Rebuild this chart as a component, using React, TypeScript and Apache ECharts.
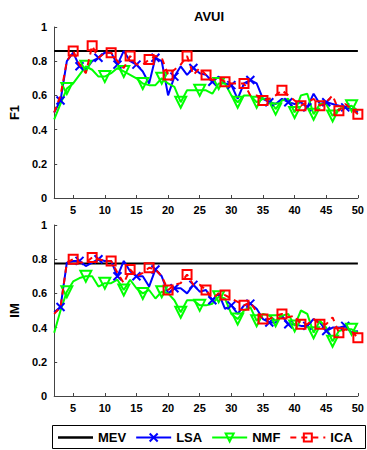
import React, { useEffect, useRef } from "react";
import * as echarts from "echarts";

const xs = [2,3,4,5,6,7,8,9,10,11,12,13,14,15,16,17,18,19,20,21,22,23,24,25,26,27,28,29,30,31,32,33,34,35,36,37,38,39,40,41,42,43,44,45,46,47,48,49,50];
const xTicks = [5,10,15,20,25,30,35,40,45,50];
const title = "AVUI";
const mevF1 = 0.86;
const mevIM = 0.775;

const lsaF1 = [0.50,0.57,0.80,0.85,0.77,0.75,0.80,0.82,0.85,0.85,0.78,0.86,0.80,0.78,0.74,0.67,0.82,0.80,0.60,0.71,0.77,0.72,0.76,0.73,0.72,0.68,0.71,0.67,0.66,0.58,0.67,0.69,0.67,0.58,0.56,0.55,0.58,0.56,0.55,0.56,0.53,0.61,0.55,0.56,0.55,0.54,0.53,0.52,0.50];
const nmfF1 = [0.46,0.55,0.64,0.67,0.72,0.77,0.75,0.71,0.71,0.73,0.76,0.74,0.72,0.70,0.67,0.66,0.66,0.70,0.67,0.65,0.56,0.63,0.63,0.63,0.63,0.61,0.67,0.67,0.60,0.56,0.60,0.60,0.56,0.58,0.58,0.52,0.57,0.58,0.50,0.60,0.61,0.49,0.55,0.55,0.48,0.52,0.53,0.54,0.51];
const icaF1 = [0.50,0.60,0.80,0.86,0.78,0.73,0.89,0.82,0.85,0.85,0.80,0.76,0.83,0.78,0.78,0.81,0.83,0.82,0.72,0.75,0.78,0.83,0.72,0.76,0.72,0.69,0.70,0.68,0.67,0.67,0.67,0.60,0.60,0.57,0.58,0.60,0.63,0.60,0.57,0.54,0.56,0.58,0.54,0.56,0.60,0.51,0.55,0.52,0.49];

const lsaIM = [0.49,0.52,0.78,0.79,0.79,0.76,0.78,0.80,0.79,0.79,0.70,0.79,0.73,0.70,0.70,0.64,0.74,0.70,0.60,0.63,0.63,0.60,0.65,0.61,0.62,0.56,0.60,0.51,0.53,0.48,0.53,0.54,0.51,0.45,0.43,0.43,0.47,0.42,0.42,0.41,0.41,0.45,0.43,0.38,0.40,0.40,0.41,0.37,0.38];
const nmfIM = [0.37,0.50,0.61,0.67,0.69,0.70,0.70,0.64,0.66,0.66,0.68,0.62,0.68,0.63,0.60,0.62,0.57,0.61,0.60,0.56,0.49,0.56,0.56,0.53,0.53,0.54,0.58,0.57,0.48,0.45,0.50,0.52,0.44,0.48,0.47,0.44,0.47,0.48,0.41,0.50,0.48,0.37,0.44,0.40,0.32,0.38,0.39,0.39,0.37];
const icaIM = [0.48,0.52,0.78,0.80,0.78,0.78,0.81,0.80,0.79,0.79,0.72,0.66,0.74,0.70,0.72,0.75,0.74,0.70,0.62,0.65,0.66,0.71,0.65,0.65,0.62,0.57,0.60,0.59,0.57,0.55,0.53,0.55,0.49,0.45,0.45,0.47,0.48,0.46,0.47,0.42,0.42,0.45,0.42,0.42,0.46,0.37,0.39,0.38,0.34];

const FONT = "Liberation Sans";
const CROSS = "path://M0,0L10,10M10,0L0,10";
const BAR = "path://M0,0L35,0L35,2.5L0,2.5Z";

function pairs(vals: number[]) {
  return vals.map((v, i) => [xs[i], v]);
}
function markerSize(phase: number, size: number) {
  return (_v: any, p: any) => (p && p.dataIndex % 3 === phase && p.dataIndex > 0 ? size : 0);
}

function makeSeries(idx: number, lsa: number[], nmf: number[], ica: number[], mev: number) {
  return [
    {
      name: "MEV", type: "line", xAxisIndex: idx, yAxisIndex: idx,
      data: [[xs[0], mev], [xs[xs.length - 1], mev]],
      symbol: "none", color: "#000000",
      lineStyle: { color: "#000000", width: 2 },
      z: 2,
    },
    {
      name: "LSA", type: "line", xAxisIndex: idx, yAxisIndex: idx,
      data: pairs(lsa), showAllSymbol: true,
      symbol: CROSS, symbolSize: markerSize(1, 8), color: "#0000ff",
      itemStyle: { color: "rgba(0,0,0,0)", borderColor: "#0000ff", borderWidth: 2 },
      lineStyle: { color: "#0000ff", width: 2 },
      z: 3,
    },
    {
      name: "NMF", type: "line", xAxisIndex: idx, yAxisIndex: idx,
      data: pairs(nmf), showAllSymbol: true,
      symbol: "triangle", symbolRotate: 180, symbolSize: markerSize(2, 11), color: "#00ff00",
      itemStyle: { color: "rgba(0,0,0,0)", borderColor: "#00ff00", borderWidth: 2 },
      lineStyle: { color: "#00ff00", width: 2 },
      z: 3,
    },
    {
      name: "ICA", type: "line", xAxisIndex: idx, yAxisIndex: idx,
      data: pairs(ica), showAllSymbol: true,
      symbol: "rect", symbolSize: markerSize(0, 9), color: "#ff0000",
      itemStyle: { color: "rgba(0,0,0,0)", borderColor: "#ff0000", borderWidth: 2 },
      lineStyle: { color: "#ff0000", width: 2, type: [6, 5] },
      z: 4,
    },
  ];
}

function xAxis(idx: number) {
  return {
    type: "value", gridIndex: idx, min: 2, max: 50,
    axisLine: { show: true, lineStyle: { color: "#444", width: 1 } },
    axisTick: { show: true, inside: true, length: 3, customValues: xTicks, lineStyle: { color: "#444" } },
    axisLabel: { customValues: xTicks, color: "#000", fontFamily: FONT, fontWeight: "bold", fontSize: 11, margin: 6 },
    splitLine: { show: false },
  };
}
function yAxis(idx: number, name: string) {
  return {
    type: "value", gridIndex: idx, min: 0, max: 1, interval: 0.2,
    name, nameLocation: "middle", nameGap: 30, nameRotate: 90,
    nameTextStyle: { color: "#000", fontFamily: FONT, fontWeight: "bold", fontSize: 13 },
    axisLine: { show: true, lineStyle: { color: "#444", width: 1 } },
    axisTick: { show: true, inside: true, length: 3, lineStyle: { color: "#444" } },
    axisLabel: { color: "#000", fontFamily: FONT, fontWeight: "bold", fontSize: 11, margin: 7 },
    splitLine: { show: false },
  };
}

export default function App() {
  const ref = useRef<HTMLDivElement>(null);
  useEffect(() => {
    if (!ref.current) return;
    const chart = echarts.init(ref.current, null, { renderer: "svg" });
    chart.setOption({
      animation: false,
      backgroundColor: "#ffffff",
      title: {
        text: title, left: 204, top: 5, textAlign: "center",
        textStyle: { fontFamily: FONT, fontWeight: "bold", fontSize: 13, color: "#000" },
      },
      grid: [
        { left: 48, top: 27, width: 313, height: 171 },
        { left: 48, top: 225, width: 313, height: 171 },
      ],
      xAxis: [xAxis(0), xAxis(1)],
      yAxis: [yAxis(0, "F1"), yAxis(1, "IM")],
      legend: {
        data: [{ name: "MEV", icon: BAR }, "LSA", "NMF", "ICA"],
        left: 58, top: 431, itemWidth: 35, itemHeight: 10, itemGap: 9,
        padding: 0,
        textStyle: { fontFamily: FONT, fontWeight: "bold", fontSize: 13, color: "#000" },
      },
      graphic: [
        { type: "rect", shape: { x: 52.5, y: 425.5, width: 313, height: 23 }, style: { fill: "none", stroke: "#000", lineWidth: 1 }, silent: true },
      ],
      series: [...makeSeries(0, lsaF1, nmfF1, icaF1, mevF1), ...makeSeries(1, lsaIM, nmfIM, icaIM, mevIM)],
    });
    return () => chart.dispose();
  }, []);
  return <div ref={ref} style={{ width: 367, height: 450, position: "absolute", left: 0, top: 0 }} />;
}
